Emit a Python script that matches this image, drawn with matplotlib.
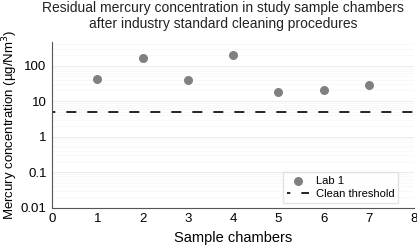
import numpy as np
import matplotlib.pyplot as plt

plt.rcParams['font.family'] = ['Liberation Sans', 'DejaVu Sans']

chambers = [1, 2, 3, 4, 5, 6, 7]
lab1 = [43, 168, 39, 195, 18, 21, 29]
threshold = 5

fig, ax = plt.subplots(figsize=(4.17, 2.49), dpi=100)
fig.subplots_adjust(left=0.125, right=0.993, top=0.83, bottom=0.165)

ax.scatter(chambers, lab1, s=30, color='#808080', label='Lab 1', zorder=3)
ax.axhline(threshold, ls=(4, (6, 6.6)), color='black', lw=1.2, label='Clean threshold')

ax.set_yscale('log')
ax.set_ylim(0.01, 450)
ax.set_xlim(0, 8)
ax.set_yticks([0.01, 0.1, 1, 10, 100])
ax.set_yticklabels(['0.01', '0.1', '1', '10', '100'])
ax.set_xticks(range(9))

ax.spines['top'].set_visible(False)
ax.spines['right'].set_visible(False)
ax.spines['left'].set_color('#555555')
ax.spines['bottom'].set_color('#555555')
ax.tick_params(which='both', length=0, labelsize=9.5, pad=4)

ax.set_axisbelow(True)
ax.yaxis.grid(True, which='major', color='#EDEDED', lw=0.8)
ax.yaxis.grid(True, which='minor', color='#F7F7F7', lw=0.6)

ax.set_xlabel('Sample chambers', fontsize=10.5)
ax.yaxis.set_label_coords(-0.09, 0.5)
ax.set_ylabel('Mercury concentration (µg/Nm$^3$)', fontsize=9.5)
fig.suptitle('Residual mercury concentration in study sample chambers\nafter industry standard cleaning procedures',
             fontsize=10, color='#222222', linespacing=1.15, x=0.535, y=0.995)

leg = ax.legend(loc='lower right', fontsize=8, frameon=True, fancybox=False,
                edgecolor='#DDDDDD', borderpad=0.35, labelspacing=0.3,
                handlelength=2.0, handletextpad=0.6, borderaxespad=0,
                bbox_to_anchor=(0.956, 0.03))

fig.savefig('out.png', dpi=100)
